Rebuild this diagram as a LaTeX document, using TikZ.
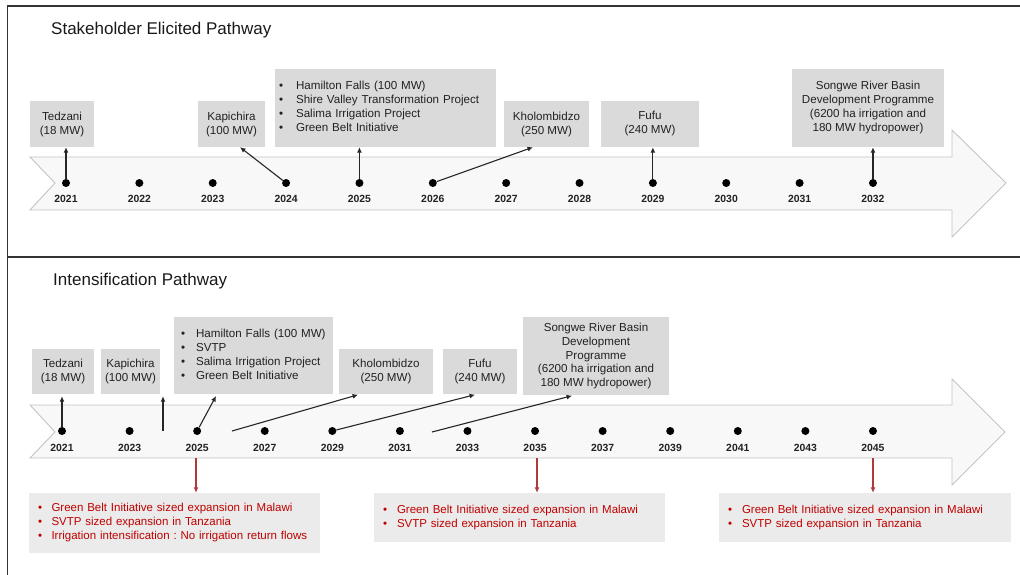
\documentclass[tikz,border=0pt]{standalone}
\usepackage{fontspec}
\setmainfont{Liberation Sans}
\usetikzlibrary{arrows.meta,calc}
\definecolor{boxgray}{HTML}{DADADA}
\definecolor{redbox}{HTML}{EBEBEB}
\definecolor{redtxt}{HTML}{C00000}
\definecolor{redline}{HTML}{B03A3A}
\definecolor{bandfill}{HTML}{F8F8F8}
\definecolor{bandline}{HTML}{C4C4C4}
\definecolor{txt}{HTML}{222222}
\frenchspacing
\begin{document}
\frenchspacing
\begin{tikzpicture}[x=1pt,y=-1pt,
  box/.style={fill=boxgray, draw=none, inner sep=0pt, text=txt, font=\fontsize{11.6}{14}\selectfont, align=center},
  rbox/.style={fill=redbox, draw=none, inner sep=0pt, text=redtxt, font=\fontsize{11.5}{13.8}\selectfont, align=left},
  dot/.style={circle, fill=black, inner sep=0pt, minimum size=8pt},
  yr/.style={font=\fontsize{10.4}{12}\selectfont\bfseries, text=txt},
  arr/.style={-{Latex[length=5.5pt,width=5pt]}, line width=1.1pt, draw=black!85},
  rarr/.style={-{Latex[length=5.5pt,width=5pt]}, line width=1.1pt, draw=redline},
  band/.style={fill=bandfill, draw=bandline, line width=0.9pt},
  frame/.style={draw=black!80, line width=1.6pt},
  ptitle/.style={font=\fontsize{17}{20}\selectfont, text=black!90, anchor=west, inner sep=0pt}]
\useasboundingbox (0,0) rectangle (1020,575);
% frame
\draw[frame] (1020,6) -- (7.5,6) -- (7.5,575);
\draw[frame] (7.5,257) -- (1020,257);
% titles
\node[ptitle] (title1) at (51,30) {Stakeholder Elicited Pathway};
\node[ptitle] (title2) at (53,281) {Intensification Pathway};
% bands
\draw[band] (30,157) -- (952,157) -- (952,130) -- (1006,183) -- (952,237) -- (952,210) -- (30,210) -- (55,183) -- cycle;
\draw[band] (30,405) -- (952,405) -- (952,379) -- (1005,432) -- (952,485) -- (952,458) -- (30,458) -- (55,432) -- cycle;
% dots top
\foreach \i in {0,...,11}{
  \pgfmathtruncatemacro{\yv}{2021+\i}
  \node[dot] (t\i) at ({66+73.36*\i},183) {};
  \node[yr] (ty\i) at ({66+73.36*\i},199) {\yv};
}
% dots bottom
\foreach \i in {0,...,12}{
  \pgfmathtruncatemacro{\yv}{2021+2*\i}
  \node[dot] (b\i) at ({62+67.58*\i},431) {};
  \node[yr] (by\i) at ({62+67.58*\i},448) {\yv};
}
% top boxes
\node[box, minimum width=64pt, minimum height=46pt] (ted1) at (62,124) {Tedzani\\(18 MW)};
\node[box, minimum width=67pt, minimum height=46pt] (kap1) at (231.5,124) {Kapichira\\(100 MW)};
\node[box, minimum width=221pt, minimum height=78pt, align=left, text width=213pt] (ham1) at (385.5,108)
  {\begin{tabular}{@{}l@{\hspace{13pt}}l@{}}•&Hamilton Falls (100 MW)\\•&Shire Valley Transformation Project\\•&Salima Irrigation Project\\•&Green Belt Initiative\end{tabular}};
\node[box, minimum width=85pt, minimum height=46pt] (kho1) at (546.5,124) {Kholombidzo\\(250 MW)};
\node[box, minimum width=98pt, minimum height=46pt] (fufu1) at (650,124) {Fufu\\(240 MW)};
\node[box, minimum width=152pt, minimum height=78pt] (song1) at (868,108) {Songwe River Basin\\Development Programme\\(6200 ha irrigation and\\180 MW hydropower)};
% top arrows
\draw[arr] (t0) -- (t0 |- ted1.south);
\draw[arr] (t3) -- (240,0 |- kap1.south);
\draw[arr] (t4) -- (t4 |- ham1.south);
\draw[arr] (t5) -- (533,0 |- kho1.south);
\draw[arr] (t8) -- (t8 |- fufu1.south);
\draw[arr] (t11) -- (t11 |- song1.south);
% bottom boxes
\node[box, minimum width=62pt, minimum height=45pt] (ted2) at (63,371.5) {Tedzani\\(18 MW)};
\node[box, minimum width=59pt, minimum height=45pt] (kap2) at (130.5,371.5) {Kapichira\\(100 MW)};
\node[box, minimum width=159pt, minimum height=77pt, align=left, text width=145pt] (ham2) at (253.5,355.5)
  {\begin{tabular}{@{}l@{\hspace{11pt}}l@{}}•&Hamilton Falls (100 MW)\\•&SVTP\\•&Salima Irrigation Project\\•&Green Belt Initiative\end{tabular}};
\node[box, minimum width=94pt, minimum height=45pt] (kho2) at (386,371.5) {Kholombidzo\\(250 MW)};
\node[box, minimum width=74pt, minimum height=45pt] (fufu2) at (480,371.5) {Fufu\\(240 MW)};
\node[box, minimum width=146pt, minimum height=78pt, font=\fontsize{11.6}{13.8}\selectfont] (song2) at (596,356) {Songwe River Basin\\Development\\Programme\\(6200 ha irrigation and\\180 MW hydropower)};
% bottom arrows
\coordinate (k2s) at (163,431);
\coordinate (kh2s) at (232,431);
\coordinate (sg2s) at (432,432);
\draw[arr, shorten >=2pt] (b0) -- (b0 |- ted2.south);
\draw[arr, shorten >=2pt] (k2s) -- (k2s |- kap2.south);
\draw[arr, shorten >=2pt] (b2) -- (217,0 |- ham2.south);
\draw[arr, shorten >=2pt] (kh2s) -- (360,0 |- kho2.south);
\draw[arr, shorten >=2pt] (b4) -- (477,0 |- fufu2.south);
\draw[arr, shorten >=2pt] (sg2s) -- (574,0 |- song2.south);
% red boxes
\node[rbox, minimum width=291pt, minimum height=60pt, text width=273pt] (red1) at (174.5,523)
  {\begin{tabular}{@{}l@{\hspace{9.5pt}}l@{}}•&Green Belt Initiative sized expansion in Malawi\\•&SVTP sized expansion in Tanzania\\•&Irrigation intensification : No irrigation return flows\end{tabular}};
\node[rbox, minimum width=291pt, minimum height=49pt, text width=273pt] (red2) at (519.5,517.5)
  {\begin{tabular}{@{}l@{\hspace{10pt}}l@{}}•&Green Belt Initiative sized expansion in Malawi\\•&SVTP sized expansion in Tanzania\end{tabular}};
\node[rbox, minimum width=292pt, minimum height=49pt, text width=274pt] (red3) at (865,517.5)
  {\begin{tabular}{@{}l@{\hspace{10pt}}l@{}}•&Green Belt Initiative sized expansion in Malawi\\•&SVTP sized expansion in Tanzania\end{tabular}};
% red arrows
\coordinate (r1s) at (196,458);
\coordinate (r2s) at (537,458);
\coordinate (r3s) at (873,458);
\draw[rarr] (r1s) -- (r1s |- red1.north);
\draw[rarr] (r2s) -- (r2s |- red2.north);
\draw[rarr] (r3s) -- (r3s |- red3.north);
\end{tikzpicture}
\end{document}
